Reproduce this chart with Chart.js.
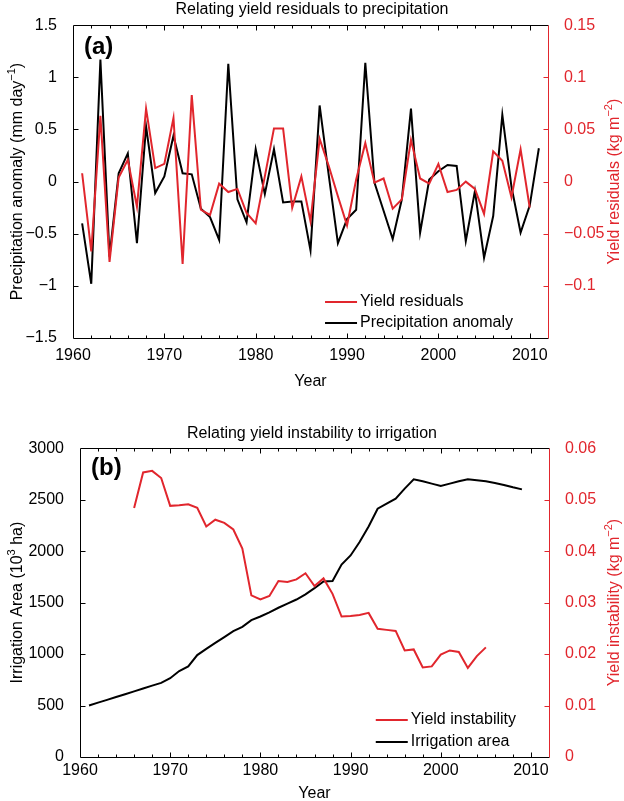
<!DOCTYPE html>
<html>
<head>
<meta charset="utf-8">
<script src="https://cdn.jsdelivr.net/npm/chart.js@4.4.1/dist/chart.umd.min.js"></script>
<style>
  html, body { margin: 0; padding: 0; background: #fff; }
  .panel { position: absolute; left: 0; width: 624px; }
</style>
</head>
<body>
<div class="panel" style="top:0;height:400px"><canvas id="chartA" width="624" height="400"></canvas></div>
<div class="panel" style="top:400px;height:401px"><canvas id="chartB" width="624" height="401"></canvas></div>
<script>
const RED = '#e1262d';
const FONT = "'Liberation Sans', Arial, Helvetica, sans-serif";

// ---- panel (a) data ----
const precipYears = [1961, 1962, 1963, 1964, 1965, 1966, 1967, 1968, 1969, 1970,
  1971, 1972, 1973, 1974, 1975, 1976, 1977, 1978, 1979, 1980,
  1981, 1982, 1983, 1984, 1985, 1986, 1987, 1988, 1989, 1990,
  1991, 1992, 1993, 1994, 1995, 1996, 1997, 1998, 1999, 2000,
  2001, 2002, 2003, 2004, 2005, 2006, 2007, 2008, 2009, 2010, 2011];
const precipAnomaly = [-0.40, -0.98, 1.17, -0.72, 0.08, 0.27, -0.59, 0.53, -0.11, 0.05,
  0.44, 0.08, 0.07, -0.26, -0.34, -0.56, 1.13, -0.17, -0.39, 0.31,
  -0.12, 0.31, -0.20, -0.19, -0.19, -0.66, 0.73, 0.06, -0.59, -0.36,
  -0.27, 1.14, -0.01, -0.28, -0.55, -0.17, 0.70, -0.49, 0.02, 0.10,
  0.16, 0.15, -0.57, -0.09, -0.73, -0.33, 0.64, -0.05, -0.49, -0.23, 0.32];

const residualYears = [1961, 1962, 1963, 1964, 1965, 1966, 1967, 1968, 1969, 1970,
  1971, 1972, 1973, 1974, 1975, 1976, 1977, 1978, 1979, 1980,
  1981, 1982, 1983, 1984, 1985, 1986, 1987, 1988, 1989, 1990,
  1991, 1992, 1993, 1994, 1995, 1996, 1997, 1998, 1999, 2000,
  2001, 2002, 2003, 2004, 2005, 2006, 2007, 2008, 2009, 2010];
const yieldResiduals = [0.008, -0.067, 0.063, -0.077, 0.004, 0.021, -0.024, 0.070, 0.013, 0.017,
  0.061, -0.079, 0.083, -0.027, -0.032, -0.002, -0.010, -0.007, -0.030, -0.040,
  0.005, 0.051, 0.051, -0.025, 0.005, -0.038, 0.041, 0.015, -0.014, -0.042,
  0.002, 0.037, -0.001, 0.003, -0.026, -0.017, 0.040, 0.003, -0.002, 0.017,
  -0.010, -0.008, 0.000, -0.007, -0.031, 0.029, 0.020, -0.015, 0.031, -0.025];

// ---- panel (b) data ----
const irrigationYears = [1961, 1962, 1963, 1964, 1965, 1966, 1967, 1968, 1969, 1970,
  1971, 1972, 1973, 1974, 1975, 1976, 1977, 1978, 1979, 1980,
  1981, 1982, 1983, 1984, 1985, 1986, 1987, 1988, 1989, 1990,
  1991, 1992, 1993, 1994, 1995, 1996, 1997, 1998, 1999, 2000,
  2001, 2002, 2003, 2004, 2005, 2006, 2007, 2008, 2009];
const irrigationArea = [500, 528, 555, 583, 610, 638, 665, 693, 720, 765,
  835, 880, 990, 1050, 1108, 1165, 1222, 1265, 1330, 1365,
  1405, 1450, 1490, 1530, 1580, 1640, 1705, 1710, 1870, 1958,
  2088, 2240, 2412, 2461, 2510, 2607, 2698, 2678, 2656, 2633,
  2656, 2678, 2698, 2688, 2678, 2662, 2643, 2620, 2600];

const instabilityYears = [1966, 1967, 1968, 1969, 1970, 1971, 1972, 1973, 1974, 1975,
  1976, 1977, 1978, 1979, 1980, 1981, 1982, 1983, 1984, 1985,
  1986, 1987, 1988, 1989, 1990, 1991, 1992, 1993, 1994, 1995,
  1996, 1997, 1998, 1999, 2000, 2001, 2002, 2003, 2004, 2005];
const yieldInstability = [0.0484, 0.0553, 0.0556, 0.0542, 0.0488, 0.0489, 0.0491, 0.0484, 0.0448, 0.0461,
  0.0455, 0.0442, 0.0405, 0.0314, 0.0306, 0.0313, 0.0342, 0.0340, 0.0345, 0.0357,
  0.0332, 0.0347, 0.0317, 0.0273, 0.0274, 0.0276, 0.0280, 0.0249, 0.0247, 0.0245,
  0.0207, 0.0209, 0.0174, 0.0176, 0.0199, 0.0207, 0.0204, 0.0173, 0.0196, 0.0213];

const points = (xs, ys) => xs.map((x, i) => ({ x: x, y: ys[i] }));
const fmt = v => {
  const r = Math.round(v * 10000) / 10000;
  return r < 0 ? '\u2212' + Math.abs(r) : String(r);
};

// text with superscripts, centred on (cx, cy)
function drawRich(ctx, parts, cx, cy, rot, color, size) {
  ctx.save();
  ctx.translate(cx, cy);
  ctx.rotate(rot);
  ctx.fillStyle = color;
  ctx.textBaseline = 'middle';
  ctx.textAlign = 'left';
  const supSize = Math.round(size * 0.68);
  const widths = parts.map(p => {
    ctx.font = (p.sup ? supSize : size) + 'px ' + FONT;
    return ctx.measureText(p.t).width;
  });
  let px = -widths.reduce((s, w) => s + w, 0) / 2;
  parts.forEach((p, i) => {
    ctx.font = (p.sup ? supSize : size) + 'px ' + FONT;
    ctx.fillText(p.t, px, p.sup ? -size * 0.38 : 0);
    px += widths[i];
  });
  ctx.restore();
}

// matlab-ish frame, inward ticks, panel letter, legend, axis titles
const matlabAxes = {
  id: 'matlabAxes',
  afterDraw(chart, args, o) {
    const { ctx, chartArea: a, scales } = chart;
    const x = scales.x, yl = scales.yL, yr = scales.yR;
    const L = Math.round(a.left) + 0.5, R = Math.round(a.right) + 0.5;
    const T = Math.round(a.top) + 0.5, B = Math.round(a.bottom) + 0.5;
    ctx.save();
    ctx.lineWidth = 1;

    // black spines + ticks
    ctx.strokeStyle = '#000';
    ctx.beginPath();
    ctx.moveTo(R, T); ctx.lineTo(L, T); ctx.lineTo(L, B); ctx.lineTo(R, B);
    for (let v = x.min + 2; v < x.max; v += 2) {
      const px = Math.round(x.getPixelForValue(v)) + 0.5;
      const len = v % 10 === 0 ? 5 : 3;
      ctx.moveTo(px, B); ctx.lineTo(px, B - len);
      ctx.moveTo(px, T); ctx.lineTo(px, T + len);
    }
    yl.ticks.forEach(t => {
      const py = Math.round(yl.getPixelForValue(t.value)) + 0.5;
      if (py <= T + 1 || py >= B - 1) return;
      ctx.moveTo(L, py); ctx.lineTo(L + 5, py);
    });
    ctx.stroke();

    // right spine in red
    ctx.strokeStyle = RED;
    ctx.beginPath();
    ctx.moveTo(R, T); ctx.lineTo(R, B);
    yr.ticks.forEach(t => {
      const py = Math.round(yr.getPixelForValue(t.value)) + 0.5;
      if (py <= T + 1 || py >= B - 1) return;
      ctx.moveTo(R, py); ctx.lineTo(R - 5, py);
    });
    ctx.stroke();

    // panel letter
    ctx.fillStyle = '#000';
    ctx.font = 'bold 24px ' + FONT;
    ctx.textBaseline = 'middle';
    ctx.textAlign = 'left';
    ctx.fillText(o.letter, a.left + 11, a.top + o.letterDy);

    // legend, lower right inside the axes
    ctx.font = '16px ' + FONT;
    const items = chart.data.datasets;
    const tw = Math.max(...items.map(d => ctx.measureText(d.label).width));
    const tx = a.right - o.legendRight - tw;
    items.forEach((d, i) => {
      const ly = a.bottom - o.legendBottom - (items.length - 1 - i) * o.legendGap;
      ctx.strokeStyle = d.borderColor;
      ctx.lineWidth = 2;
      ctx.beginPath();
      ctx.moveTo(tx - 35, ly); ctx.lineTo(tx - 3, ly);
      ctx.stroke();
      ctx.fillStyle = '#000';
      ctx.fillText(d.label, tx, ly);
    });
    ctx.restore();

    const cy = (a.top + a.bottom) / 2;
    drawRich(ctx, o.leftTitle, 18, cy, -Math.PI / 2, '#000', 16);
    drawRich(ctx, o.rightTitle, 615, cy, -Math.PI / 2, RED, 16);
  }
};

const tickFont = { family: FONT, size: 16 };

function makeChart(id, cfg) {
  return new Chart(document.getElementById(id), {
    type: 'line',
    data: {
      datasets: [
        { label: cfg.redLabel, data: cfg.redData, yAxisID: 'yR', borderColor: RED,
          borderWidth: 2, pointRadius: 0, tension: 0, fill: false },
        { label: cfg.blackLabel, data: cfg.blackData, yAxisID: 'yL', borderColor: '#000',
          borderWidth: 2, pointRadius: 0, tension: 0, fill: false }
      ]
    },
    options: {
      responsive: false,
      animation: false,
      layout: { padding: { top: cfg.padTop, left: 0, right: 0, bottom: 0 } },
      plugins: {
        legend: { display: false },
        tooltip: { enabled: false },
        title: {
          display: true, text: cfg.title, color: '#000',
          font: { family: FONT, size: 16, weight: 'normal' },
          padding: { top: 0, bottom: cfg.titleGap }
        },
        matlabAxes: cfg.deco
      },
      scales: {
        x: {
          type: 'linear', min: 1960, max: 2012,
          grid: { display: false, drawTicks: false }, border: { display: false },
          ticks: { stepSize: 10, includeBounds: false, autoSkip: false, maxRotation: 0,
                   color: '#000', font: tickFont, padding: cfg.xTickPad,
                   callback: v => String(v) },
          title: { display: true, text: 'Year', color: '#000', font: tickFont,
                   padding: { top: 0, bottom: cfg.yearPad } },
          afterFit: s => { s.height = cfg.xHeight; }
        },
        yL: {
          type: 'linear', axis: 'y', position: 'left', min: cfg.left[0], max: cfg.left[1],
          grid: { display: false }, border: { display: false },
          ticks: { stepSize: cfg.left[2], color: '#000', font: tickFont, padding: 8, callback: fmt },
          afterFit: s => { s.width = cfg.leftWidth; }
        },
        yR: {
          type: 'linear', axis: 'y', position: 'right', min: cfg.right[0], max: cfg.right[1],
          grid: { display: false }, border: { display: false },
          ticks: { stepSize: cfg.right[2], color: RED, font: tickFont, padding: 8,
                   callback: v => (cfg.hideRightMin && v <= cfg.right[0] + 1e-9) ? '' : fmt(v) },
          afterFit: s => { s.width = cfg.rightWidth; }
        }
      }
    },
    plugins: [matlabAxes]
  });
}

makeChart('chartA', {
  title: 'Relating yield residuals to precipitation',
  redLabel: 'Yield residuals', redData: points(residualYears, yieldResiduals),
  blackLabel: 'Precipitation anomaly', blackData: points(precipYears, precipAnomaly),
  left: [-1.5, 1.5, 0.5], right: [-0.15, 0.15, 0.05], hideRightMin: true,
  padTop: 0, titleGap: 6, xHeight: 62, xTickPad: 8, yearPad: 9,
  leftWidth: 73, rightWidth: 76,
  deco: {
    letter: '(a)', letterDy: 22, legendRight: 35, legendBottom: 15, legendGap: 21,
    leftTitle: [{ t: 'Precipitation anomaly (mm day' }, { t: '\u22121', sup: true }, { t: ')' }],
    rightTitle: [{ t: 'Yield residuals (kg m' }, { t: '\u22122', sup: true }, { t: ')' }]
  }
});

makeChart('chartB', {
  title: 'Relating yield instability to irrigation',
  redLabel: 'Yield instability', redData: points(instabilityYears, yieldInstability),
  blackLabel: 'Irrigation area', blackData: points(irrigationYears, irrigationArea),
  left: [0, 3000, 500], right: [0, 0.06, 0.01], hideRightMin: false,
  padTop: 24, titleGap: 5, xHeight: 44, xTickPad: 4, yearPad: -2,
  leftWidth: 80, rightWidth: 75,
  deco: {
    letter: '(b)', letterDy: 20, legendRight: 33, legendBottom: 15, legendGap: 22,
    leftTitle: [{ t: 'Irrigation Area (10' }, { t: '3', sup: true }, { t: ' ha)' }],
    rightTitle: [{ t: 'Yield instability (kg m' }, { t: '\u22122', sup: true }, { t: ')' }]
  }
});
</script>
</body>
</html>
